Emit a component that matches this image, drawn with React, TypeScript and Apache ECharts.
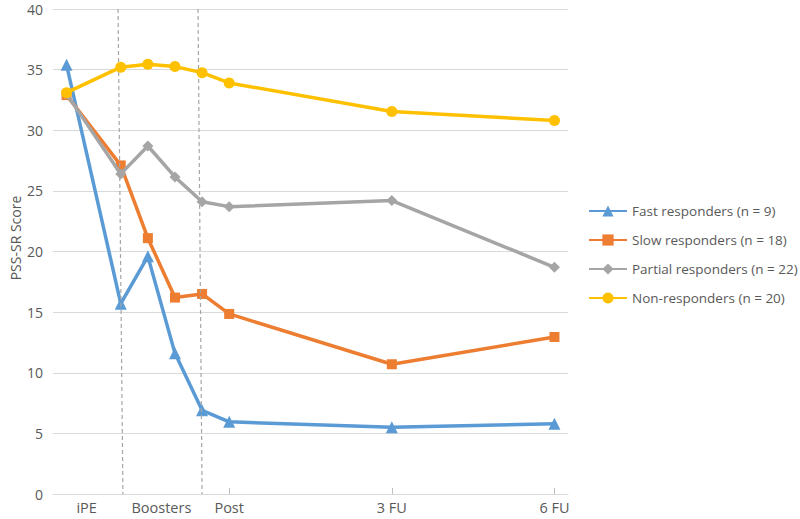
import React, { useEffect, useRef } from "react";
import * as echarts from "echarts";

const xPositions = [0, 2, 3, 4, 5, 6, 12, 18];
const fastResponders = [35.4, 15.7, 19.6, 11.6, 6.9, 5.95, 5.5, 5.8];
const slowResponders = [32.9, 27.1, 21.1, 16.2, 16.5, 14.85, 10.7, 12.95];
const partialResponders = [33.0, 26.4, 28.7, 26.15, 24.1, 23.7, 24.2, 18.7];
const nonResponders = [33.1, 35.2, 35.45, 35.25, 34.75, 33.9, 31.55, 30.8];

const seriesNames = [
  "Fast responders (n = 9)",
  "Slow responders (n = 18)",
  "Partial responders (n = 22)",
  "Non-responders (n = 20)",
];
const seriesColors = ["#5B9BD5", "#ED7D31", "#A5A5A5", "#FFC000"];
const seriesSymbols = ["triangle", "rect", "diamond", "circle"];
const seriesSymbolSizes = [12, 10, 11, 11];

const xLabelValues = [0.74, 3.5, 6, 12, 18];
const xLabelTexts = ["iPE", "Boosters", "Post", "3 FU", "6 FU"];
const xTickValues = [6, 12, 18];
const yAxisTitle = "PSS-SR Score";

const FONT = "Open Sans";
const TEXT_COLOR = "#595959";

export default function App() {
  const ref = useRef<HTMLDivElement>(null);

  useEffect(() => {
    if (!ref.current) return;
    const chart = echarts.init(ref.current, null, { renderer: "svg" });
    const allData = [fastResponders, slowResponders, partialResponders, nonResponders];

    const series: any[] = allData.map((vals, i) => ({
      name: seriesNames[i],
      type: "line",
      data: vals.map((v, j) => [xPositions[j], v]),
      symbol: seriesSymbols[i],
      symbolSize: seriesSymbolSizes[i],
      showSymbol: true,
      lineStyle: { width: 3.5, color: seriesColors[i] },
      itemStyle: { color: seriesColors[i] },
      z: 3 + i,
    }));

    series[0].markLine = {
      silent: true,
      symbol: "none",
      label: { show: false },
      lineStyle: { type: [4, 3], color: "#A6A6A6", width: 1.2 },
      data: [
        [{ coord: [1.9, 40] }, { coord: [2.08, 0] }],
        [{ coord: [4.85, 40] }, { coord: [5.0, 0] }],
      ],
    };

    chart.setOption({
      animation: false,
      backgroundColor: "#ffffff",
      textStyle: { fontFamily: FONT },
      grid: { left: 53, right: 232, top: 9, bottom: 25, containLabel: false },
      legend: {
        orient: "vertical",
        left: 583,
        top: 199,
        itemWidth: 38,
        itemHeight: 14,
        itemGap: 15,
        textStyle: { color: TEXT_COLOR, fontSize: 13.5, fontFamily: FONT },
        data: seriesNames,
      },
      xAxis: {
        type: "value",
        min: -0.5,
        max: 18.5,
        axisLine: { show: true, lineStyle: { color: "#D9D9D9", width: 1 } },
        axisTick: {
          show: true,
          customValues: xTickValues,
          inside: true,
          length: 6,
          lineStyle: { color: "#BFBFBF" },
        },
        axisLabel: {
          show: true,
          customValues: xLabelValues,
          formatter: (v: number) => {
            const idx = xLabelValues.findIndex((x) => Math.abs(x - v) < 1e-6);
            return idx >= 0 ? xLabelTexts[idx] : "";
          },
          color: TEXT_COLOR,
          fontSize: 14.5,
          lineHeight: 14,
          fontFamily: FONT,
          margin: 6,
        },
        splitLine: { show: false },
      },
      yAxis: {
        type: "value",
        min: 0,
        max: 40,
        interval: 5,
        axisLine: { show: false },
        axisTick: { show: false },
        axisLabel: {
          color: TEXT_COLOR,
          fontSize: 14,
          lineHeight: 12,
          fontFamily: FONT,
          margin: 10,
        },
        splitLine: { show: true, lineStyle: { color: "#D9D9D9", width: 1 } },
      },
      graphic: [
        {
          type: "text",
          x: 15,
          y: 238,
          rotation: Math.PI / 2,
          style: {
            text: yAxisTitle,
            fill: TEXT_COLOR,
            fontSize: 14,
            fontFamily: FONT,
            textAlign: "center",
            textVerticalAlign: "middle",
          },
        },
      ],
      series,
    });

    return () => chart.dispose();
  }, []);

  return (
    <div
      ref={ref}
      style={{ position: "fixed", left: 0, top: 0, width: 800, height: 519 }}
    />
  );
}
